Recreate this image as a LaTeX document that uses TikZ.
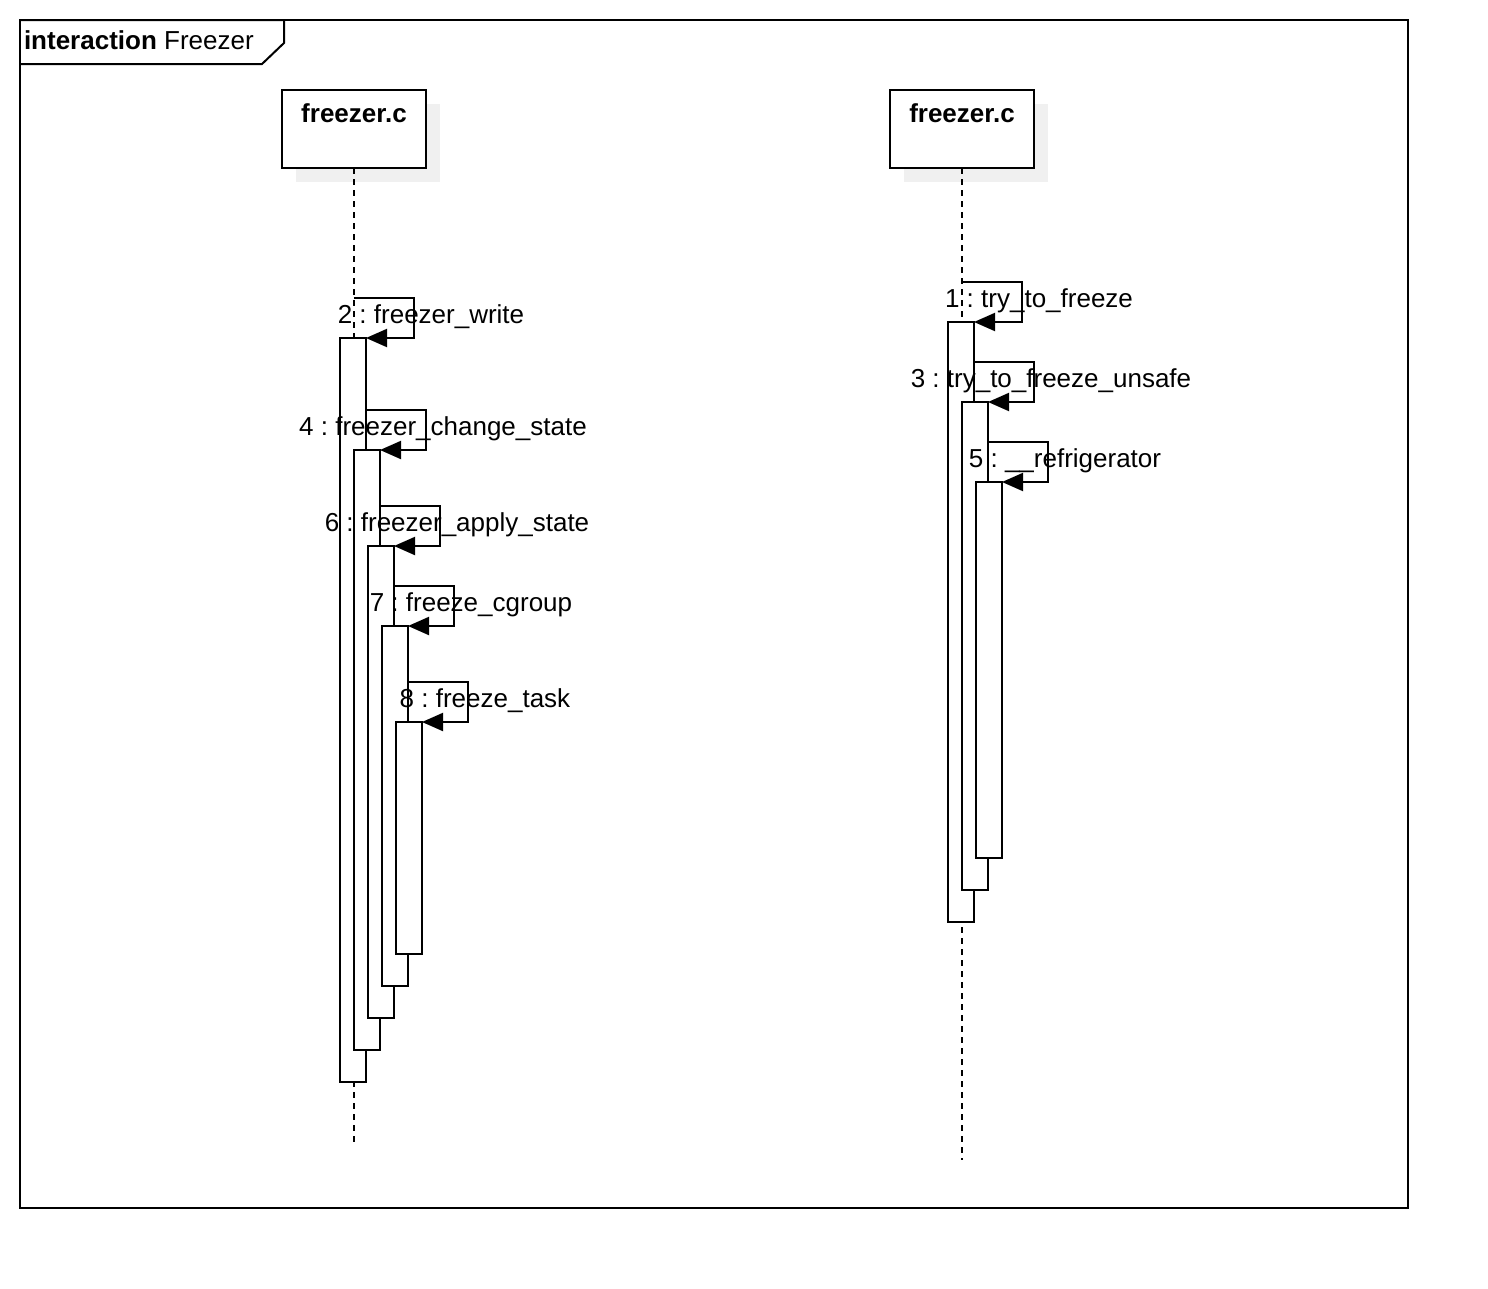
\documentclass[tikz,border=0pt]{standalone}
\usepackage{fontspec}
\setmainfont{Liberation Sans}
\usetikzlibrary{arrows.meta,calc}
\definecolor{shadowgray}{HTML}{F0F0F0}
\frenchspacing
\begin{document}
\begin{tikzpicture}[x=1pt,y=-1pt, line width=2pt,
  every node/.style={font=\fontsize{26pt}{30pt}\selectfont},
  head/.style={draw, fill=white, minimum width=144pt, minimum height=78pt, inner sep=0pt, outer sep=0pt, anchor=north west},
  headtxt/.style={anchor=base, inner sep=0pt, font=\fontsize{26pt}{30pt}\selectfont\bfseries},
  bar/.style={draw, fill=white, minimum width=26pt, inner sep=0pt, outer sep=0pt, anchor=north west},
  lifeline/.style={dash pattern=on 6pt off 5pt},
  msg/.style={-{Triangle[length=21pt,width=18pt]}},
  lbl/.style={anchor=base, inner sep=0pt},
]
\useasboundingbox (0,0) rectangle (1488,1288);
% frame
\draw (20,20) rectangle (1408,1208);
\draw (20,20) -- (284,20) -- (284,43) -- (262,64) -- (20,64);
\node[anchor=base west, inner sep=0pt] (title) at (23,49) {\textbf{interaction} Freezer};
% lifeline heads
\fill[shadowgray] (296,104) rectangle (440,182);
\fill[shadowgray] (904,104) rectangle (1048,182);
\node[head] (h1) at (282,90) {};
\node[head] (h2) at (890,90) {};
\node[headtxt] (t1) at (h1.north |- 0,122) {freezer.c};
\node[headtxt] (t2) at (h2.north |- 0,122) {freezer.c};
% lifelines
\coordinate (e1) at (h1.south |- 0,1145);
\coordinate (e2) at (h2.south |- 0,1160);
\draw[lifeline] (h1.south) -- (e1);
\draw[lifeline] (h2.south) -- (e2);
% activation bars (left)
\node[bar, minimum height=744pt] (a2) at (340,338) {};
\node[bar, minimum height=600pt] (a4) at (354,450) {};
\node[bar, minimum height=472pt] (a6) at (368,546) {};
\node[bar, minimum height=360pt] (a7) at (382,626) {};
\node[bar, minimum height=232pt] (a8) at (396,722) {};
% activation bars (right)
\node[bar, minimum height=600pt] (a1) at (948,322) {};
\node[bar, minimum height=488pt] (a3) at (962,402) {};
\node[bar, minimum height=376pt] (a5) at (976,482) {};
% messages (left)
\draw[msg] (h1.south |- 0,298) coordinate (s2) -- ++(60,0) |- (a2.north east);
\draw[msg] (a2.east |- 0,410) coordinate (s4) -- ++(60,0) |- (a4.north east);
\draw[msg] (a4.east |- 0,506) coordinate (s6) -- ++(60,0) |- (a6.north east);
\draw[msg] (a6.east |- 0,586) coordinate (s7) -- ++(60,0) |- (a7.north east);
\draw[msg] (a7.east |- 0,682) coordinate (s8) -- ++(60,0) |- (a8.north east);
% messages (right)
\draw[msg] (h2.south |- 0,282) coordinate (s1) -- ++(60,0) |- (a1.north east);
\draw[msg] (a1.east |- 0,362) coordinate (s3) -- ++(60,0) |- (a3.north east);
\draw[msg] (a3.east |- 0,442) coordinate (s5) -- ++(60,0) |- (a5.north east);
% labels
\node[lbl] (l2) at ($(s2)+(77,25)$) {2 : freezer\_write};
\node[lbl] (l4) at ($(s4)+(77,25)$) {4 : freezer\_change\_state};
\node[lbl] (l6) at ($(s6)+(77,25)$) {6 : freezer\_apply\_state};
\node[lbl] (l7) at ($(s7)+(77,25)$) {7 : freeze\_cgroup};
\node[lbl] (l8) at ($(s8)+(77,25)$) {8 : freeze\_task};
\node[lbl] (l1) at ($(s1)+(77,25)$) {1 : try\_to\_freeze};
\node[lbl] (l3) at ($(s3)+(77,25)$) {3 : try\_to\_freeze\_unsafe};
\node[lbl] (l5) at ($(s5)+(77,25)$) {5 : \_\_refrigerator};
\end{tikzpicture}
\end{document}
